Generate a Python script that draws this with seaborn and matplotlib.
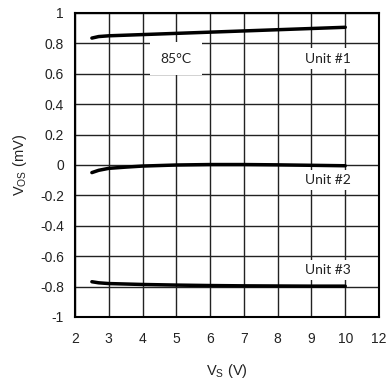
import matplotlib
matplotlib.use("Agg")
import matplotlib.pyplot as plt
import seaborn as sns
import pandas as pd

# Data
vs_unit1 = [2.5, 2.7, 3.0, 4.0, 5.0, 6.0, 7.0, 8.0, 9.0, 10.0]
vos_unit1 = [0.835, 0.845, 0.850, 0.858, 0.866, 0.874, 0.882, 0.890, 0.898, 0.906]
vs_unit2 = [2.5, 2.7, 3.0, 3.5, 4.0, 5.0, 6.0, 7.0, 8.0, 9.0, 10.0]
vos_unit2 = [-0.050, -0.035, -0.022, -0.014, -0.007, 0.000, 0.003, 0.003, 0.001, -0.002, -0.005]
vs_unit3 = [2.5, 2.7, 3.0, 4.0, 5.0, 6.0, 7.0, 8.0, 9.0, 10.0]
vos_unit3 = [-0.768, -0.775, -0.780, -0.786, -0.790, -0.793, -0.795, -0.796, -0.797, -0.797]

x_tick_pos = [2, 3, 4, 5, 6, 7, 8, 9, 10, 11]
x_tick_labels = ["2", "3", "4", "5", "6", "7", "8", "9", "10", "12"]
y_ticks = [-1, -0.8, -0.6, -0.4, -0.2, 0, 0.2, 0.4, 0.6, 0.8, 1]
y_tick_labels = ["-1", "-0.8", "-0.6", "-0.4", "-0.2", "0", "0.2", "0.4", "0.6", "0.8", "1"]

sns.set_theme(style="white")
plt.rcParams["font.family"] = ["Liberation Sans", "DejaVu Sans"]
plt.rcParams["mathtext.fontset"] = "custom"
plt.rcParams["mathtext.rm"] = "Liberation Sans"

df = pd.concat([
    pd.DataFrame({"VS": vs_unit1, "VOS": vos_unit1, "unit": "Unit #1"}),
    pd.DataFrame({"VS": vs_unit2, "VOS": vos_unit2, "unit": "Unit #2"}),
    pd.DataFrame({"VS": vs_unit3, "VOS": vos_unit3, "unit": "Unit #3"}),
])

fig = plt.figure(figsize=(3.89, 3.81), dpi=100)
ax = fig.add_axes([75 / 389, 1 - 317 / 381, (379 - 75) / 389, (317 - 13) / 381])

ax.set_xlim(2, 11)
ax.set_ylim(-1, 1)
ax.set_xticks(x_tick_pos)
ax.set_xticklabels(x_tick_labels)
ax.set_yticks(y_ticks)
ax.set_yticklabels(y_tick_labels)
ax.grid(True, color="#222222", linewidth=1.0)
ax.set_axisbelow(True)

sns.lineplot(data=df, x="VS", y="VOS", units="unit", estimator=None,
             color="black", linewidth=2.5, ax=ax, legend=False, zorder=3)

for s in ax.spines.values():
    s.set_color("black")
    s.set_linewidth(1.5)

ax.tick_params(axis="both", labelsize=10, colors="#222222", length=0, pad=8)
ax.tick_params(axis="x", pad=11)

ax.set_xlabel(r"V$_{\rm S}$ (V)", fontsize=10.5, color="#222222", labelpad=11)
ax.set_ylabel(r"V$_{\rm OS}$ (mV)", fontsize=10.5, color="#222222", labelpad=8)

lab_font = ["Lato", "DejaVu Sans"]
box = dict(facecolor="white", edgecolor="none", pad=3)
ax.text(5.0, 0.7, "85°C", ha="center", va="center", fontsize=10, color="#222222",
        family=lab_font,
        bbox=dict(facecolor="white", edgecolor="none", boxstyle="square,pad=0.75"), zorder=4)
ax.text(9.5, 0.7, "Unit #1", ha="center", va="center", fontsize=10, color="#222222",
        family=lab_font, bbox=box, zorder=4)
ax.text(9.5, -0.1, "Unit #2", ha="center", va="center", fontsize=10, color="#222222",
        family=lab_font, bbox=box, zorder=4)
ax.text(9.5, -0.69, "Unit #3", ha="center", va="center", fontsize=10, color="#222222",
        family=lab_font, bbox=box, zorder=4)

fig.savefig("out.png", dpi=100)
